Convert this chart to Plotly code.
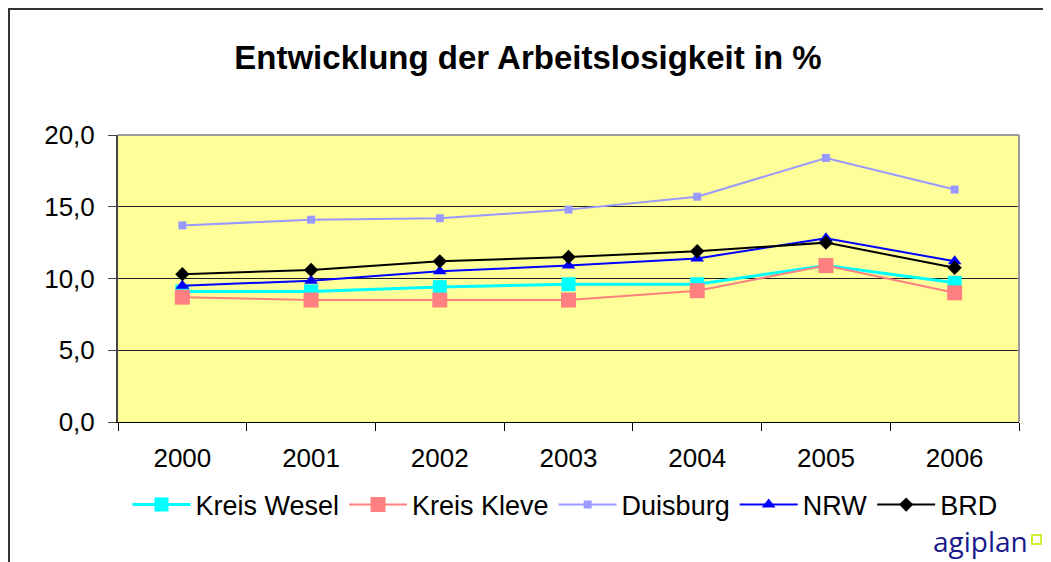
import plotly.graph_objects as go

years = ["2000", "2001", "2002", "2003", "2004", "2005", "2006"]
kreis_wesel = [9.1, 9.1, 9.4, 9.6, 9.6, 10.9, 9.7]
kreis_kleve = [8.7, 8.5, 8.5, 8.5, 9.15, 10.9, 9.0]
duisburg = [13.7, 14.1, 14.2, 14.8, 15.7, 18.4, 16.2]
nrw = [9.5, 9.85, 10.5, 10.9, 11.4, 12.8, 11.2]
brd = [10.3, 10.6, 11.2, 11.5, 11.9, 12.5, 10.75]
y_ticks = [0, 5, 10, 15, 20]

OFF = 8  # page body margin offset
W, H = 1051 - OFF, 562 - OFF
# plot area in reference-pixel coordinates
L, R, T, B = 118, 1019, 135, 422

def px(x):
    return (x - L) / (R - L)

def py(y):
    return (B - y) / (B - T)

fig = go.Figure()
series = [
    ("Kreis Wesel", kreis_wesel, "#00FFFF", "square", 14, 3),
    ("Kreis Kleve", kreis_kleve, "#FF8080", "square", 15, 2),
    ("Duisburg", duisburg, "#9999FF", "square", 8, 2),
    ("NRW", nrw, "#0000FF", "triangle-up", 12, 2),
    ("BRD", brd, "#000000", "diamond", 11, 2),
]
for name, vals, col, sym, size, lw in series:
    fig.add_trace(go.Scatter(
        x=years, y=vals, name=name, mode="lines+markers",
        line=dict(color=col, width=lw),
        marker=dict(symbol=sym, size=size, color=col, line=dict(width=0)),
    ))

font = "Liberation Sans, Arial, sans-serif"
fig.update_layout(
    width=W, height=H,
    margin=dict(l=L - OFF, r=W - (R - OFF), t=T - OFF, b=H - (B - OFF), pad=0),
    paper_bgcolor="white",
    plot_bgcolor="#FFFF99",
    separators=", ",
    font=dict(family=font, size=24, color="black"),
    title=dict(text="<b>Entwicklung der Arbeitslosigkeit in %</b>",
               x=px(528), xref="paper", xanchor="center",
               y=1 - (57 - OFF) / H, yref="container", yanchor="middle",
               font=dict(size=33, family=font, color="black")),
    showlegend=True,
    legend=dict(orientation="h", x=px(565), xanchor="center",
                y=py(505), yanchor="middle",
                font=dict(size=27, family=font), itemwidth=58,
                bgcolor="rgba(0,0,0,0)"),
    xaxis=dict(
        type="category", range=[-0.5, 6.5],
        showgrid=False, showline=True, linecolor="black", linewidth=1,
        ticks="outside", tickson="boundaries", ticklen=8, tickcolor="black",
        ticklabelstandoff=13, zeroline=False,
        tickfont=dict(size=26, family=font),
    ),
    yaxis=dict(
        range=[0, 20], tickvals=y_ticks, tickformat=".1f",
        showgrid=True, gridcolor="#222222", gridwidth=1,
        showline=True, linecolor="#444444", linewidth=2,
        ticks="outside", ticklen=8, tickcolor="#444444",
        ticklabelstandoff=8, zeroline=False,
        tickfont=dict(size=26, family=font),
    ),
)

shapes = [
    # plot area border top and right (gray)
    dict(type="line", xref="paper", yref="paper", x0=0, x1=1, y0=1, y1=1,
         line=dict(color="#999999", width=2)),
    dict(type="line", xref="paper", yref="paper", x0=1, x1=1, y0=0, y1=1,
         line=dict(color="#999999", width=2)),
    # outer frame (extends past right/bottom of image)
    dict(type="rect", xref="paper", yref="paper",
         x0=px(9), x1=px(1065), y0=py(9), y1=py(580),
         line=dict(color="#333333", width=2), layer="below"),
    # logo square
    dict(type="rect", xref="paper", yref="paper",
         x0=px(1032), x1=px(1041), y0=py(535), y1=py(544),
         line=dict(color="#CCEE33", width=2)),
]
fig.update_layout(shapes=shapes)

fig.add_annotation(text="agiplan", xref="paper", yref="paper",
                   x=px(1029), y=py(561), xanchor="right", yanchor="bottom",
                   showarrow=False, borderpad=0,
                   font=dict(family="Open Sans, sans-serif", size=28, color="#1A1A8C"))

fig.write_html("out.html")
